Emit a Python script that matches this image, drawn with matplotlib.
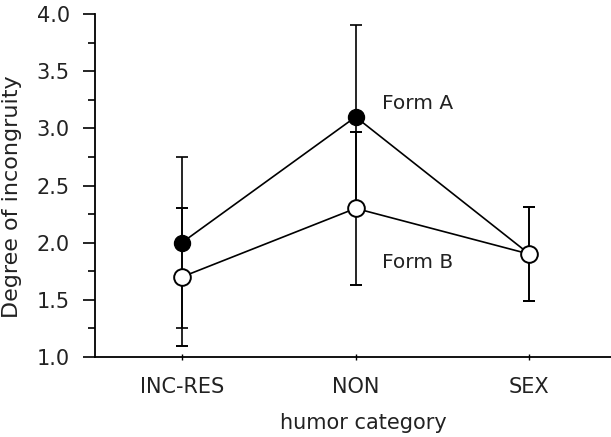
import matplotlib
matplotlib.use("Agg")
import matplotlib.pyplot as plt
from matplotlib.ticker import MultipleLocator

categories = ["INC-RES", "NON", "SEX"]
form_a = [2.0, 3.1, 1.9]
form_a_err = [0.75, 0.8, 0.41]
form_b = [1.7, 2.3, 1.9]
form_b_err = [0.6, 0.67, 0.41]
yticks = [1.0, 1.5, 2.0, 2.5, 3.0, 3.5, 4.0]

plt.rcParams['font.family'] = ['DejaVu Sans']
fig = plt.figure(figsize=(6.11, 4.37), dpi=100)
ax = fig.add_axes([95/611, 80/437, 1 - 95/611, 343/437])

x = [1, 2, 3]
ax.errorbar(x, form_a, yerr=form_a_err, fmt='-o', color='black', mfc='black', mec='black',
            ms=11.5, lw=1.2, elinewidth=1.2, capsize=4, capthick=1.2, zorder=3)
ax.errorbar(x, form_b, yerr=form_b_err, fmt='-o', color='black', mfc='white', mec='black',
            ms=12, mew=1.4, lw=1.2, elinewidth=1.2, capsize=4, capthick=1.2, zorder=4)

ax.text(2.15, 3.22, "Form A", fontsize=14.5, color='#222', va='center', ha='left')
ax.text(2.15, 1.83, "Form B", fontsize=14.5, color='#222', va='center', ha='left')

ax.set_xlim(0.5, 3.47)
ax.set_ylim(1.0, 4.0)
ax.set_xticks(x)
ax.set_xticklabels(categories)
ax.set_yticks(yticks)
ax.set_yticklabels([f"{v:.1f}" for v in yticks])
ax.yaxis.set_minor_locator(MultipleLocator(0.25))
ax.spines['top'].set_visible(False)
ax.spines['right'].set_visible(False)
for s in ['left', 'bottom']:
    ax.spines[s].set_linewidth(1.3)
ax.tick_params(axis='y', which='major', direction='out', length=9, width=1.2, labelsize=15, colors='black', labelcolor='#222', pad=9)
ax.tick_params(axis='y', which='minor', direction='out', length=5, width=1.2)
ax.tick_params(axis='x', which='major', direction='inout', length=5, width=1.0, labelsize=15, labelcolor='#222', pad=12)
ax.set_xlabel("humor category", fontsize=15, color='#222')
ax.set_ylabel("Degree of incongruity", fontsize=16, color='#222')
ax.yaxis.set_label_coords((12 - 95) / 516, (357 - 196.5) / 343)
ax.xaxis.set_label_coords((363.5 - 95) / 516, -66 / 343)
ax.xaxis.label.set_va('center')
ax.yaxis.label.set_va('center')

fig.savefig("out.png", dpi=100)
